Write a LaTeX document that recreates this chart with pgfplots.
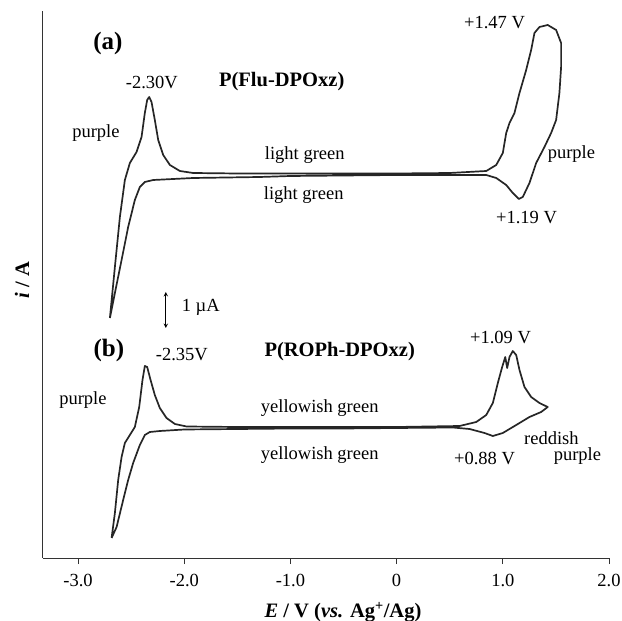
\documentclass[border=0pt]{standalone}
\usepackage{fontspec}
\setmainfont{Liberation Serif}
\usepackage{pgfplots}
\pgfplotsset{compat=1.18}

\newcommand{\lab}{\fontsize{18.5bp}{20bp}\selectfont}
\newcommand{\ttl}{\fontsize{20.5bp}{22bp}\selectfont\bfseries}

\begin{document}
\begin{tikzpicture}
\path[use as bounding box] (-43bp,-63bp) rectangle (579bp,558bp);
\begin{axis}[
  at={(0,0)}, anchor=south west,
  scale only axis, width=566bp, height=547bp,
  xmin=-3.33, xmax=2.0, ymin=0, ymax=547,
  axis x line=bottom, axis y line=left,
  axis line style={-, line width=1bp, black!80},
  xtick={-3,-2,-1,0,1,2},
  xticklabels={-3.0,-2.0,-1.0,0,1.0,2.0},
  ytick=\empty,
  tick align=outside, major tick length=6bp,
  tick style={line width=1bp, black!80},
  ticklabel style={font=\lab},
  xticklabel style={yshift=-7bp},
  xlabel={\textit{E} / V (\textit{vs.} Ag\textsuperscript{+}/Ag)},
  ylabel={\textit{i} / A},
  xlabel style={at={(axis description cs:0.53,-0.099)}, anchor=center, font=\ttl},
  ylabel style={at={(axis description cs:-0.037,0.508)}, anchor=center, font=\ttl},
  clip=false,
]
% (a) P(Flu-DPOxz)
\addplot[black!85, line width=1.7bp, line join=round] coordinates {
(-2.700,240) (-2.653,291) (-2.606,341) (-2.559,378) (-2.512,395) (-2.449,406)
(-2.402,421) (-2.371,445) (-2.349,458) (-2.330,461) (-2.308,456) (-2.277,438)
(-2.245,418) (-2.198,403) (-2.135,393) (-2.041,387) (-1.916,385) (-1.5,384.5)
(-1.0,384.5) (-0.5,384.5) (0,384.5) (0.5,385) (0.844,387) (0.938,393) (1.000,405)
(1.032,425) (1.063,435) (1.110,445) (1.157,465) (1.220,488) (1.267,508)
(1.298,525) (1.345,531) (1.423,533) (1.502,528) (1.549,515) (1.549,491)
(1.533,465) (1.502,438) (1.455,425) (1.392,411) (1.314,395) (1.251,375)
(1.188,361) (1.151,359) (1.094,365) (1.032,373) (0.938,380) (0.844,383)
(0.5,383) (0,383) (-0.5,382.5) (-1.0,382) (-1.289,381) (-1.916,380)
(-2.292,378) (-2.371,376) (-2.418,371) (-2.465,358) (-2.528,331) (-2.590,298)
(-2.653,265) (-2.700,240)
};
% (b) P(ROPh-DPOxz)
\addplot[black!85, line width=1.7bp, line join=round] coordinates {
(-2.684,20) (-2.653,45) (-2.622,78) (-2.590,101) (-2.559,115) (-2.512,123)
(-2.465,131) (-2.424,151) (-2.393,178) (-2.371,192) (-2.349,191) (-2.317,178)
(-2.277,163) (-2.230,150) (-2.167,140) (-2.088,134) (-1.978,131.5) (-1.5,131)
(-1.0,131) (-0.5,131) (0,131) (0.593,132) (0.750,136) (0.844,143) (0.906,155)
(0.953,175) (0.994,191) (1.023,201) (1.041,190) (1.063,201) (1.094,207)
(1.126,203) (1.157,188) (1.204,171) (1.267,161) (1.345,155) (1.423,151)
(1.361,146) (1.251,141) (1.126,133) (1.000,125) (0.906,122) (0.828,125)
(0.687,129) (0.530,130.5) (0,130) (-0.5,129.5) (-1.0,129.5) (-1.5,129)
(-2.0,128.5) (-2.230,127) (-2.324,126) (-2.371,123) (-2.418,113) (-2.481,95)
(-2.528,78) (-2.575,58) (-2.637,31) (-2.684,20)
};
% annotations
\node[font=\fontsize{25bp}{27bp}\selectfont\bfseries] at (axis cs:-2.719,515) {(a)};
\node[font=\fontsize{25bp}{27bp}\selectfont\bfseries] at (axis cs:-2.709,208) {(b)};
\node[font=\ttl] at (axis cs:-1.082,476) {P(Flu-DPOxz)};
\node[font=\ttl] at (axis cs:-0.536,206) {P(ROPh-DPOxz)};
\node[font=\lab] at (axis cs:-2.305,476) {-2.30V};
\node[font=\lab] at (axis cs:-2.832,425) {purple};
\node[font=\lab] at (axis cs:-0.865,403) {light green};
\node[font=\lab] at (axis cs:-0.875,363) {light green};
\node[font=\lab] at (axis cs:0.922,535) {+1.47 V};
\node[font=\lab] at (axis cs:1.646,404) {purple};
\node[font=\lab] at (axis cs:1.223,340) {+1.19 V};
\draw[<->, >=stealth, line width=1bp] (axis cs:-2.173,266) -- (axis cs:-2.173,230);
\node[font=\lab] at (axis cs:-1.844,251) {1 µA};
\node[font=\lab] at (axis cs:-2.023,203) {-2.35V};
\node[font=\lab] at (axis cs:-2.954,158) {purple};
\node[font=\lab] at (axis cs:-0.724,150) {yellowish green};
\node[font=\lab] at (axis cs:-0.724,103) {yellowish green};
\node[font=\lab] at (axis cs:0.978,221) {+1.09 V};
\node[font=\lab] at (axis cs:1.458,120) {reddish};
\node[font=\lab] at (axis cs:1.703,102) {purple};
\node[font=\lab] at (axis cs:0.828,100) {+0.88 V};
\end{axis}
\end{tikzpicture}
\end{document}
